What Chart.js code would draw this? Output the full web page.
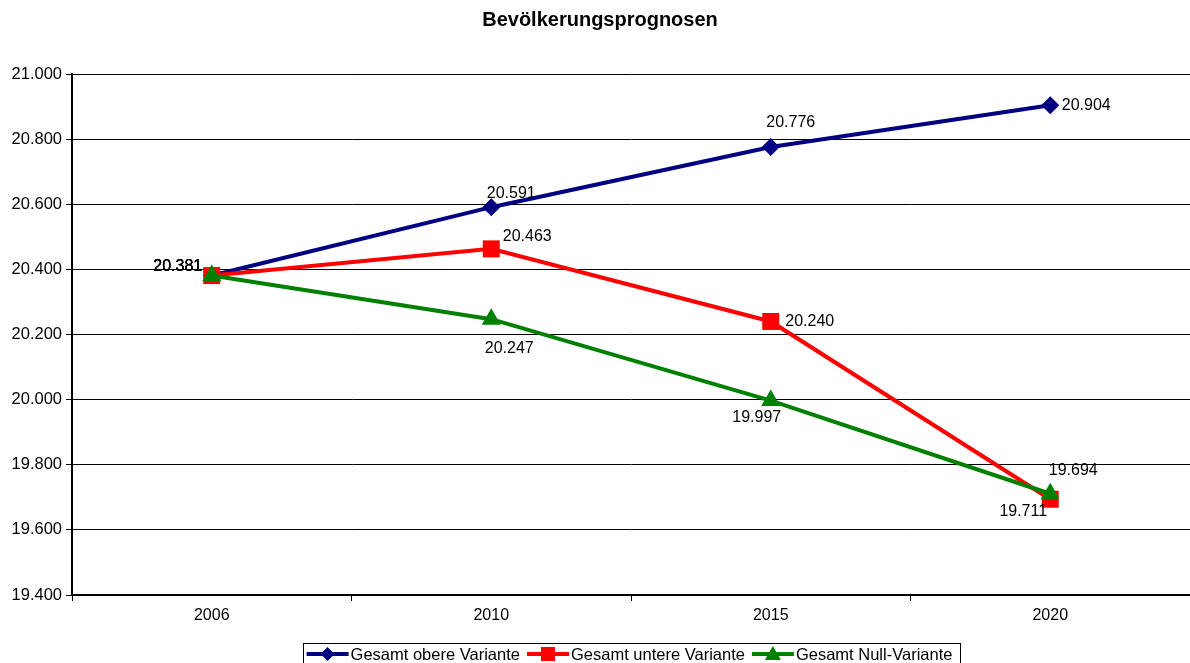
<!DOCTYPE html>
<html>
<head>
<meta charset="utf-8">
<script src="https://cdn.jsdelivr.net/npm/chart.js@4/dist/chart.umd.min.js"></script>
<style>
  html, body { margin: 0; padding: 0; background: #fff; }
  #wrap { width: 1190px; height: 663px; }
</style>
</head>
<body>
<div id="wrap"><canvas id="grafica" width="1190" height="663"></canvas></div>
<script>
const titel = "Bevölkerungsprognosen"
const jahre = ["2006", "2010", "2015", "2020"]
const obere = [20381, 20591, 20776, 20904]
const untere = [20381, 20463, 20240, 19694]
const nullVariante = [20381, 20247, 19997, 19711]
const namen = ["Gesamt obere Variante", "Gesamt untere Variante", "Gesamt Null-Variante"]
const farben = ["#000080", "#ff0000", "#008000"]

// label offsets (dx, dy) per point, relative to the marker
const versatz = [
    [[-34, -9], [20, -14], [20, -24], [36, 0]],
    [[-34, -9], [36, -12], [39, 0], [23, -29]],
    [[-34, -9], [18, 29], [-14, 17], [-27, 18]]
]

const schrift = "Arial, 'Liberation Sans', sans-serif"

function format(v) {
    let s = Math.round(v).toString()
    return s.replace(/\B(?=(\d{3})+(?!\d))/g, ".")
}

function marker(ctx, art, cx, cy) {
    ctx.beginPath()
    if (art === 0) {
        ctx.moveTo(cx, cy - 7); ctx.lineTo(cx + 7, cy); ctx.lineTo(cx, cy + 7); ctx.lineTo(cx - 7, cy)
    } else if (art === 1) {
        ctx.rect(cx - 7, cy - 7, 14, 14)
    } else {
        ctx.moveTo(cx, cy - 8); ctx.lineTo(cx + 8, cy + 6); ctx.lineTo(cx - 8, cy + 6)
    }
    ctx.closePath()
    ctx.fill()
}

const beschriftung = {
    id: "beschriftung",
    afterDatasetsDraw(chart) {
        const ctx = chart.ctx
        ctx.save()
        ctx.font = "16px " + schrift
        ctx.fillStyle = "#000"
        ctx.textAlign = "center"
        ctx.textBaseline = "middle"
        chart.data.datasets.forEach((ds, i) => {
            const meta = chart.getDatasetMeta(i)
            meta.data.forEach((p, j) => {
                const o = versatz[i][j]
                ctx.fillText(format(ds.data[j]), p.x + o[0], p.y + o[1])
            })
        })
        ctx.restore()
    },
    afterDraw(chart) {
        const ctx = chart.ctx
        ctx.save()
        // titel
        ctx.font = "bold 20px " + schrift
        ctx.fillStyle = "#000"
        ctx.textAlign = "center"
        ctx.textBaseline = "middle"
        ctx.fillText(titel, 600, 20)

        // legende
        ctx.font = "16.5px " + schrift
        const muster = 42
        let breite = 4
        namen.forEach(n => { breite += muster + 2 + ctx.measureText(n).width + 7 })
        let x = 631 - breite / 2
        const y = 654
        ctx.strokeStyle = "#000"
        ctx.lineWidth = 1
        ctx.strokeRect(Math.round(x) + 0.5, 643.5, Math.round(breite), 22)
        x += 4
        namen.forEach((n, i) => {
            ctx.strokeStyle = farben[i]
            ctx.fillStyle = farben[i]
            ctx.lineWidth = 4
            ctx.beginPath()
            ctx.moveTo(x, y)
            ctx.lineTo(x + muster, y)
            ctx.stroke()
            marker(ctx, i, x + muster / 2, y)
            ctx.fillStyle = "#000"
            ctx.textAlign = "left"
            ctx.fillText(n, x + muster + 2, y + 1)
            x += muster + 2 + ctx.measureText(n).width + 7
        })
        ctx.restore()
    }
}

const reihen = [obere, untere, nullVariante]
const stile = ["rectRot", "rect", "triangle"]
const radien = [9, 12, 11]

const ctx = document.getElementById("grafica").getContext("2d")

const chart = new Chart(ctx, {
    type: "line",
    data: {
        labels: jahre,
        datasets: reihen.map((r, i) => ({
            label: namen[i],
            data: r,
            order: 3 - i,
            borderColor: farben[i],
            backgroundColor: farben[i],
            borderWidth: 4,
            pointStyle: stile[i],
            pointRadius: radien[i],
            pointBorderWidth: 0,
            pointHoverRadius: radien[i],
            tension: 0
        }))
    },
    options: {
        responsive: false,
        animation: false,
        events: [],
        layout: { autoPadding: false, padding: { top: 74, left: 0, right: 0, bottom: 0 } },
        plugins: {
            legend: { display: false },
            title: { display: false },
            tooltip: { enabled: false }
        },
        scales: {
            x: {
                offset: true,
                grid: {
                    offset: true,
                    drawOnChartArea: false,
                    drawTicks: true,
                    tickLength: 6,
                    color: "#000"
                },
                border: { color: "#000", width: 2 },
                ticks: {
                    color: "#000",
                    font: { size: 16, family: schrift },
                    padding: 5
                },
                afterFit(scale) {
                    scale.height = 68
                    scale.paddingLeft = 0
                    scale.paddingRight = 0
                }
            },
            y: {
                min: 19400,
                max: 21000,
                ticks: {
                    stepSize: 200,
                    color: "#000",
                    font: { size: 16.5, family: schrift },
                    padding: 4,
                    callback: v => format(v)
                },
                grid: {
                    color: "#000",
                    lineWidth: 1,
                    tickLength: 6,
                    drawTicks: true
                },
                border: { color: "#000", width: 2 },
                afterFit(scale) { scale.width = 72 }
            }
        }
    },
    plugins: [beschriftung]
})
</script>
</body>
</html>
